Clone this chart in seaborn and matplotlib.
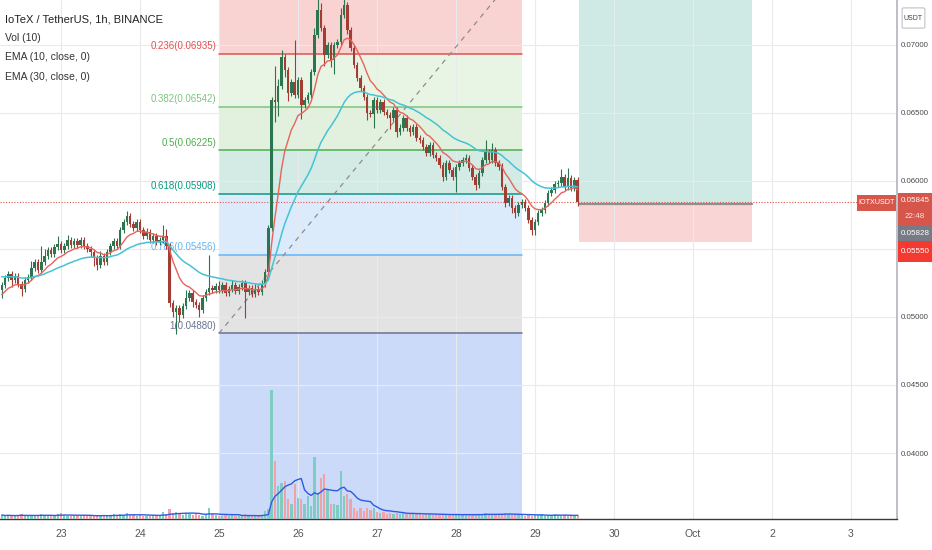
import numpy as np
import pandas as pd
import matplotlib
matplotlib.use("Agg")
import matplotlib.pyplot as plt
import matplotlib.dates as mdates
from matplotlib.patches import Rectangle, FancyBboxPatch
import seaborn as sns

# hourly IOTX/USDT candles, Sep 22 06:00 -> Sep 29 13:00
first_open = 0.05200
close = [
    0.05235, 0.05287, 0.05316, 0.05272, 0.05301, 0.05243, 0.05206, 0.05272, 0.05294, 0.05360,
    0.05404, 0.05346, 0.05404, 0.05448, 0.05493, 0.05463, 0.05515, 0.05537, 0.05493, 0.05522,
    0.05566, 0.05529, 0.05559, 0.05529, 0.05566, 0.05522, 0.05500, 0.05478, 0.05434, 0.05382,
    0.05448, 0.05404, 0.05478, 0.05522, 0.05559, 0.05522, 0.05640, 0.05698, 0.05742, 0.05684,
    0.05654, 0.05698, 0.05640, 0.05595, 0.05625, 0.05566, 0.05595, 0.05551, 0.05566, 0.05595,
    0.05522, 0.05103, 0.05037, 0.05066, 0.05015, 0.05081, 0.05140, 0.05176, 0.05110, 0.05088,
    0.05052, 0.05140, 0.05184, 0.05213, 0.05199, 0.05228, 0.05199, 0.05235, 0.05176, 0.05206,
    0.05235, 0.05191, 0.05221, 0.05250, 0.05184, 0.05213, 0.05169, 0.05206, 0.05184, 0.05243,
    0.05331, 0.05654, 0.06595, 0.06580, 0.06698, 0.06911, 0.06816, 0.06646, 0.06727, 0.06632,
    0.06742, 0.06558, 0.06595, 0.06632, 0.06801, 0.07073, 0.07257, 0.07124, 0.06926, 0.06999,
    0.06889, 0.06999, 0.07021, 0.07220, 0.07293, 0.07110, 0.06977, 0.06852, 0.06757, 0.06683,
    0.06617, 0.06499, 0.06490, 0.06595, 0.06522, 0.06580, 0.06507, 0.06485, 0.06463, 0.06522,
    0.06360, 0.06389, 0.06463, 0.06389, 0.06360, 0.06397, 0.06316, 0.06301, 0.06250, 0.06205,
    0.06264, 0.06191, 0.06169, 0.06117, 0.06029, 0.06132, 0.06080, 0.06029, 0.06103, 0.06132,
    0.06154, 0.06169, 0.06095, 0.06029, 0.05970, 0.06058, 0.06154, 0.06213, 0.06154, 0.06228,
    0.06132, 0.06103, 0.05956, 0.05838, 0.05875, 0.05801, 0.05764, 0.05823, 0.05845, 0.05801,
    0.05713, 0.05640, 0.05698, 0.05764, 0.05787, 0.05838, 0.05911, 0.05934, 0.05978, 0.05985,
    0.06029, 0.05956, 0.06022, 0.05948, 0.06007, 0.05845,
]
# wick lengths above / below the body, in units of 0.0001 USDT
upper_wick = [
    2, 2, 2, 2, 2, 2, 2, 2, 2, 5, 2, 2, 12, 5, 2, 2, 2, 6, 2, 2,
    4, 2, 2, 2, 2, 2, 2, 2, 2, 2, 4, 2, 2, 2, 2, 2, 2, 2, 4, 2,
    2, 2, 2, 2, 3, 2, 2, 2, 2, 8, 5, 2, 2, 2, 2, 2, 6, 2, 2, 2,
    2, 2, 2, 24, 2, 2, 4, 2, 2, 2, 4, 2, 2, 2, 2, 2, 2, 4, 2, 3,
    2, 2, 2, 25, 5, 5, 2, 2, 2, 31, 2, 2, 2, 2, 2, 5, 10, 5, 2, 2,
    2, 2, 2, 5, 5, 2, 2, 2, 2, 2, 2, 2, 2, 2, 2, 2, 2, 2, 2, 2,
    2, 3, 2, 2, 2, 2, 2, 2, 2, 2, 2, 2, 2, 2, 2, 2, 2, 2, 2, 2,
    2, 3, 2, 2, 2, 2, 2, 9, 2, 5, 2, 2, 3, 2, 2, 2, 2, 2, 2, 2,
    2, 2, 2, 2, 2, 2, 2, 2, 2, 2, 6, 2, 7, 2, 2, 2,
]
lower_wick = [
    6, 2, 2, 5, 2, 2, 5, 2, 2, 2, 2, 2, 2, 2, 2, 2, 2, 2, 2, 2,
    2, 2, 2, 2, 2, 2, 2, 4, 6, 4, 2, 2, 2, 2, 2, 2, 2, 2, 2, 2,
    2, 2, 2, 2, 2, 2, 2, 2, 2, 2, 2, 3, 4, 16, 5, 2, 2, 2, 4, 2,
    5, 2, 2, 2, 2, 2, 2, 2, 2, 2, 2, 2, 2, 2, 19, 2, 2, 2, 2, 2,
    2, 2, 2, 15, 10, 2, 5, 6, 2, 2, 2, 10, 2, 2, 2, 2, 2, 2, 8, 2,
    5, 10, 2, 2, 2, 3, 2, 2, 2, 2, 2, 5, 2, 10, 2, 2, 2, 2, 8, 2,
    4, 2, 2, 2, 3, 2, 2, 2, 2, 2, 2, 2, 2, 2, 3, 2, 2, 2, 11, 2,
    2, 2, 2, 2, 4, 2, 2, 2, 2, 2, 2, 2, 2, 3, 2, 4, 4, 2, 2, 2,
    2, 4, 4, 2, 2, 2, 2, 2, 2, 2, 2, 2, 2, 2, 2, 3,
]
# volume, millions of IOTX
volume = [
    0.4, 0.3, 0.4, 0.3, 0.3, 0.4, 0.5, 0.3, 0.3, 0.4, 0.3, 0.4, 0.5, 0.3, 0.3, 0.4, 0.3, 0.5, 0.6, 0.4,
    0.3, 0.3, 0.4, 0.3, 0.3, 0.4, 0.3, 0.4, 0.3, 0.3, 0.4, 0.3, 0.3, 0.4, 0.5, 0.4, 0.5, 0.4, 0.6, 0.4,
    0.4, 0.3, 0.4, 0.3, 0.3, 0.3, 0.4, 0.4, 0.4, 0.7, 0.5, 1.0, 0.6, 0.7, 0.5, 0.4, 0.6, 0.5, 0.4, 0.5,
    0.4, 0.3, 0.4, 1.1, 0.5, 0.4, 0.3, 0.3, 0.4, 0.3, 0.4, 0.3, 0.3, 0.3, 0.5, 0.3, 0.3, 0.3, 0.3, 0.4,
    0.8, 1.0, 12.9, 5.8, 3.3, 3.6, 3.8, 2.0, 1.5, 3.5, 2.1, 2.0, 1.5, 2.3, 1.3, 6.2, 2.5, 4.1, 4.5, 3.0,
    1.5, 1.5, 1.4, 4.8, 2.3, 2.5, 2.0, 1.1, 0.8, 1.1, 0.8, 1.1, 0.9, 1.1, 0.7, 0.6, 0.7, 0.5, 0.6, 0.5,
    0.6, 0.5, 0.6, 0.5, 0.5, 0.6, 0.5, 0.5, 0.4, 0.5, 0.5, 0.4, 0.5, 0.4, 0.4, 0.5, 0.4, 0.4, 0.5, 0.4,
    0.4, 0.5, 0.4, 0.4, 0.4, 0.5, 0.5, 0.6, 0.5, 0.4, 0.4, 0.5, 0.5, 0.6, 0.5, 0.4, 0.5, 0.4, 0.4, 0.3,
    0.4, 0.3, 0.4, 0.4, 0.5, 0.3, 0.4, 0.3, 0.5, 0.4, 0.3, 0.4, 0.3, 0.4, 0.3, 0.4,
]
assert len(close) == len(upper_wick) == len(lower_wick) == len(volume) == 176

# EMA starting values (read at the left edge of the chart)
ema10_seed = 0.0515
ema30_seed = 0.0530

# fib retracement drawing
fib_high = 0.0757
fib_low = 0.0488
fib_levels = [0, 0.236, 0.382, 0.5, 0.618, 0.786, 1, 1.618]
fib_line_colors = ["#e57373", "#e05252", "#7cc47f", "#4caf50", "#089981", "#64b5f6", "#6a7290", "#2962ff"]
fib_fill_colors = ["#f9d2d2", "#e9f5e4", "#e2f1dd", "#d3ebe4", "#dcebfb", "#e3e3e4", "#ccdaf9"]

# long position tool
entry_price = 0.05828
stop_price = 0.05550
target_price = 0.0760
last_price = 0.05845

times = pd.date_range("2019-09-22 06:00", periods=len(close), freq="h")
t = mdates.date2num(times.to_pydatetime())
hour = 1 / 24

opens = [first_open] + close[:-1]
df = pd.DataFrame({"t": t, "open": opens, "close": close, "vol": volume})
df["high"] = df[["open", "close"]].max(axis=1) + np.array(upper_wick) * 1e-4
df["low"] = df[["open", "close"]].min(axis=1) - np.array(lower_wick) * 1e-4
df["up"] = df["close"] >= df["open"]


def ema(values, span, seed):
    k = 2 / (span + 1)
    out = []
    e = seed
    for v in values:
        e += k * (v - e)
        out.append(e)
    return out


df["ema10"] = ema(df["close"], 10, ema10_seed)
df["ema30"] = ema(df["close"], 30, ema30_seed)
df["vol_ma"] = df["vol"].rolling(10, min_periods=1).mean()

sns.set_theme(style="white")
plt.rcParams["font.family"] = ["Liberation Sans", "DejaVu Sans"]
font = ["Liberation Sans", "DejaVu Sans"]

W, H = 932, 550
fig = plt.figure(figsize=(W / 100, H / 100), dpi=100)
ax = fig.add_axes([0, 31 / H, 897 / W, 519 / H])

x0 = mdates.date2num(pd.Timestamp("2019-09-22 05:28"))
x1 = mdates.date2num(pd.Timestamp("2019-10-03 14:00"))
ax.set_xlim(x0, x1)
ax.set_ylim(0.03515, 0.0733)

# fib zones
f0 = mdates.date2num(pd.Timestamp("2019-09-25 00:00"))
f1 = mdates.date2num(pd.Timestamp("2019-09-28 20:00"))
fib_prices = [fib_high - lv * (fib_high - fib_low) for lv in fib_levels]
for i in range(len(fib_prices) - 1):
    ax.fill_between([f0, f1], fib_prices[i + 1], fib_prices[i], color=fib_fill_colors[i], lw=0, zorder=0.2)
ymin, ymax = ax.get_ylim()
for lv, p, c in zip(fib_levels, fib_prices, fib_line_colors):
    if ymin < p < ymax:
        ax.plot([f0, f1], [p, p], color=c, lw=1.1, zorder=1)
        lab = f"{lv:g}({p:.5f})"
        ax.annotate(lab, (f0, p), xytext=(-2, 2), textcoords="offset points",
                    ha="right", va="bottom", fontsize=7, color=c, family=font)
ax.plot([f0, f1], [fib_low, fib_high], color="#8c8c8c", lw=0.9, ls=(0, (4, 4)), zorder=1.2)

# long position
p0 = mdates.date2num(pd.Timestamp("2019-09-29 13:20"))
p1 = mdates.date2num(pd.Timestamp("2019-10-01 18:00"))
ax.fill_between([p0, p1], entry_price, target_price, color="#cfe9e4", lw=0, zorder=0.2)
ax.fill_between([p0, p1], stop_price, entry_price, color="#f9d5d5", lw=0, zorder=0.2)
ax.plot([p0, p1], [entry_price, entry_price], color="#8f8f8f", lw=1.6, zorder=1)

ax.axhline(last_price, color="#e0574f", lw=0.8, ls=(0, (1, 1.5)), zorder=1.1)

# volume overlay
ax2 = ax.twinx()
ax2.set_ylim(0, 12.9 * 519 / 129)
ax2.set_yticks([])
vcol = np.where(df["up"], "#80ccc4", "#f2a2a6")
ax2.bar(df["t"], df["vol"], width=0.7 * hour, color=vcol, lw=0, zorder=1)
sns.lineplot(x=df["t"], y=df["vol_ma"], ax=ax2, color="#3059e6", lw=1.0, zorder=2)
ax2.set_xlabel("")
ax2.set_ylabel("")
for s in ax2.spines.values():
    s.set_visible(False)

# candles on top
ccol = np.where(df["up"], "#2c7550", "#a23d34")
ax3 = ax.twinx()
ax3.set_ylim(ax.get_ylim())
ax3.set_yticks([])
ax3.vlines(df["t"], df["low"], df["high"], colors=ccol, lw=0.8, zorder=2)
body = (df["close"] - df["open"]).abs().clip(lower=0.00003)
ax3.bar(df["t"], body, bottom=df[["open", "close"]].min(axis=1), width=0.76 * hour,
        color=ccol, lw=0, zorder=3)
sns.lineplot(x=df["t"], y=df["ema10"], ax=ax3, color="#e8635b", lw=1.0, zorder=4)
sns.lineplot(x=df["t"], y=df["ema30"], ax=ax3, color="#45c3d4", lw=1.1, zorder=4)
ax3.set_xlabel("")
ax3.set_ylabel("")
for s in ax3.spines.values():
    s.set_visible(False)
ax3.set_xlim(x0, x1)
ax2.set_xlim(x0, x1)

# grid and axes (after twinx, which moves ticks to the left)
days = pd.date_range("2019-09-23", "2019-10-03", freq="D")
ax.set_xticks(mdates.date2num(days.to_pydatetime()))
ax.set_xticklabels(["Oct" if d.day == 1 else str(d.day) for d in days])
yt = np.arange(0.040, 0.0701, 0.005)
ax.set_yticks(yt)
# the 0.05500 label sits behind the price tags on the scale
ax.set_yticklabels(["" if abs(v - 0.055) < 1e-6 else f"{v:.5f}" for v in yt])
ax.yaxis.set_ticks_position("right")
ax.tick_params(axis="y", labelright=True, labelleft=False)
ax.grid(True, color="#e8eaee", lw=0.8)
ax.set_axisbelow(True)

for s in ["top", "left"]:
    ax.spines[s].set_visible(False)
ax.spines["right"].set_color("#b4b7be")
ax.spines["bottom"].set_color("#3a3a3a")
ax.spines["bottom"].set_linewidth(1.0)
ax.tick_params(axis="x", length=0, pad=7, labelsize=7.5, colors="#555555")
ax.tick_params(axis="y", length=0, pad=2.5, labelsize=5.7, colors="#4a4a4a")
ax.set_xlabel("")
ax.set_ylabel("")

# legend block
legend_lines = [("IoTeX / TetherUS, 1h, BINANCE", 19, 8, "#222222"),
                ("Vol (10)", 38, 7.5, "#333333"),
                ("EMA (10, close, 0)", 57, 7.5, "#333333"),
                ("EMA (30, close, 0)", 77, 7.5, "#333333")]
for txt, y, fs, c in legend_lines:
    fig.text(5 / W, 1 - y / H, txt, fontsize=fs, color=c, va="center", family=font)


def box(xa, ya, xb, yb, color, text, tc="white", fs=5.8, ty=None):
    fig.add_artist(Rectangle((xa / W, 1 - yb / H), (xb - xa) / W, (yb - ya) / H,
                             transform=fig.transFigure, color=color, lw=0, zorder=5))
    if text:
        fig.text((xa + xb) / 2 / W, 1 - (ty if ty else (ya + yb) / 2) / H, text, fontsize=fs,
                 color=tc, ha="center", va="center", family=font, zorder=6)


box(857, 195, 896, 211, "#d6564c", "IOTXUSDT", fs=5.2)
box(898, 193, 932, 226, "#d6564c", "0.05845", ty=201)
fig.text(915 / W, 1 - 217 / H, "22:48", fontsize=5.8, color="#fde3df", ha="center", va="center",
         family=font, zorder=6)
box(898, 226, 932, 241, "#787b86", "0.05828")
box(898, 241, 932, 262, "#f23a30", "0.05550")
fig.add_artist(FancyBboxPatch((904 / W, 1 - 27 / H), 19 / W, 18 / H, boxstyle="round,pad=0.002",
                              transform=fig.transFigure, fc="white", ec="#c3c3c3", lw=0.8, zorder=5))
fig.text(913.5 / W, 1 - 18 / H, "USDT", fontsize=5.0, color="#444444", ha="center", va="center",
         family=font, zorder=6)

fig.savefig("out.png", dpi=100)
